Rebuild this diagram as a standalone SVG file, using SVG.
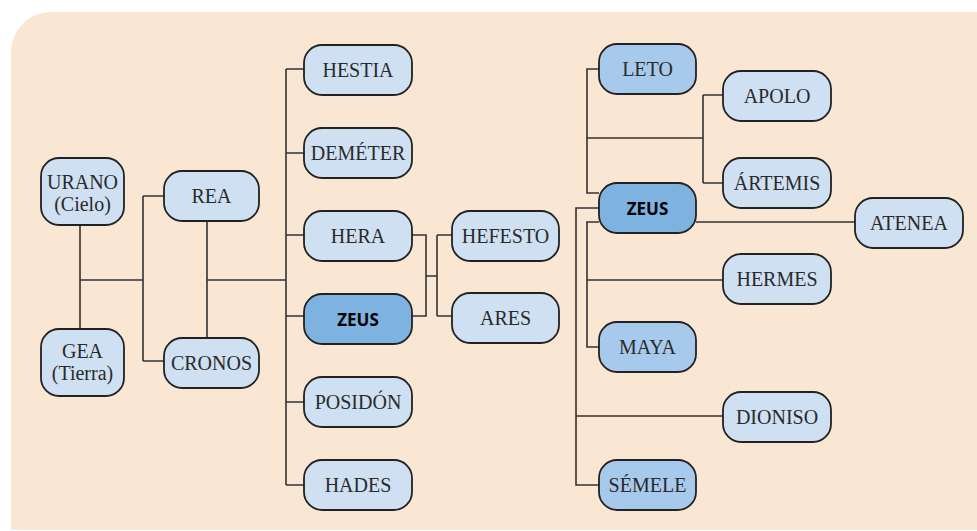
<svg xmlns="http://www.w3.org/2000/svg" width="977" height="531" viewBox="0 0 977 531">
<style>
.n rect{stroke:#222;stroke-width:1.8}
.l{fill:#cfe0f3}
.m{fill:#a7c9ec}
.d{fill:#7db2e1}
.t{font-family:'Liberation Serif','Times New Roman',serif;font-size:20px;fill:#2a2a2a;text-anchor:middle}
.b{font-family:'Open Sans','Liberation Sans',sans-serif;font-size:17px;font-weight:bold;fill:#000;text-anchor:middle}
#connectors path{fill:none;stroke:#333;stroke-width:1.6}
</style>
<rect width="977" height="531" fill="#fff"/>
<path d="M11 530 V52 A40 40 0 0 1 51 12 H977 V530 Z" fill="#f9e7d3"/>
<g id="connectors">
<path d="M80 225 V329 M80 280 H143 M143 196 V361 M143 196 H164 M143 361 H164"/>
<path d="M207 221 V338 M207 280 H286 M286 69 V485 M286 69 H304 M286 153 H304 M286 235 H304 M286 316 H304 M286 402 H304 M286 485 H304"/>
<path d="M412 235 H426 V316 H412 M426 276 H437 M437 235 V316 M437 235 H452 M437 316 H452"/>
<path d="M599 69 H587 V193 H599 M587 138 H703 M703 95 V183 M703 95 H723 M703 183 H723"/>
<path d="M599 208 H576 V485 H599 M576 416 H723"/>
<path d="M599 222 H587 V347 H599 M587 280 H723 M696 222 H855"/>
</g>
<g id="urano" class="n"><rect class="l" x="41" y="158" width="83" height="67" rx="18"/><text class="t" x="82.5" y="189">URANO</text><text class="t" x="82.5" y="211">(Cielo)</text></g>
<g id="gea" class="n"><rect class="l" x="41" y="329" width="83" height="67" rx="18"/><text class="t" x="82.5" y="358">GEA</text><text class="t" x="82.5" y="380">(Tierra)</text></g>
<g id="rea" class="n"><rect class="l" x="164" y="171" width="95" height="50" rx="18"/><text class="t" x="211.5" y="203">REA</text></g>
<g id="cronos" class="n"><rect class="l" x="164" y="338" width="95" height="50" rx="18"/><text class="t" x="211.5" y="370">CRONOS</text></g>
<g id="hestia" class="n"><rect class="l" x="304" y="45" width="108" height="50" rx="18"/><text class="t" x="358" y="77">HESTIA</text></g>
<g id="demeter" class="n"><rect class="l" x="304" y="128" width="108" height="50" rx="18"/><text class="t" x="358" y="160">DEMÉTER</text></g>
<g id="hera" class="n"><rect class="l" x="304" y="211" width="108" height="50" rx="18"/><text class="t" x="358" y="243">HERA</text></g>
<g id="zeus1" class="n"><rect class="d" x="304" y="294" width="108" height="50" rx="18"/><text class="b" x="358" y="326">ZEUS</text></g>
<g id="posidon" class="n"><rect class="l" x="304" y="377" width="108" height="50" rx="18"/><text class="t" x="358" y="409">POSIDÓN</text></g>
<g id="hades" class="n"><rect class="l" x="304" y="460" width="108" height="50" rx="18"/><text class="t" x="358" y="492">HADES</text></g>
<g id="hefesto" class="n"><rect class="l" x="452" y="211" width="107" height="50" rx="18"/><text class="t" x="505.5" y="243">HEFESTO</text></g>
<g id="ares" class="n"><rect class="l" x="452" y="293" width="107" height="50" rx="18"/><text class="t" x="505.5" y="325">ARES</text></g>
<g id="leto" class="n"><rect class="m" x="599" y="44" width="97" height="50" rx="18"/><text class="t" x="647.5" y="76">LETO</text></g>
<g id="apolo" class="n"><rect class="l" x="723" y="71" width="108" height="50" rx="18"/><text class="t" x="777" y="103">APOLO</text></g>
<g id="artemis" class="n"><rect class="l" x="723" y="158" width="108" height="50" rx="18"/><text class="t" x="777" y="190">ÁRTEMIS</text></g>
<g id="zeus2" class="n"><rect class="d" x="599" y="183" width="97" height="50" rx="18"/><text class="b" x="647.5" y="215">ZEUS</text></g>
<g id="atenea" class="n"><rect class="l" x="855" y="198" width="108" height="50" rx="18"/><text class="t" x="909" y="230">ATENEA</text></g>
<g id="hermes" class="n"><rect class="l" x="723" y="254" width="108" height="50" rx="18"/><text class="t" x="777" y="286">HERMES</text></g>
<g id="maya" class="n"><rect class="m" x="599" y="322" width="97" height="50" rx="18"/><text class="t" x="647.5" y="354">MAYA</text></g>
<g id="dioniso" class="n"><rect class="l" x="723" y="392" width="108" height="50" rx="18"/><text class="t" x="777" y="424">DIONISO</text></g>
<g id="semele" class="n"><rect class="m" x="599" y="460" width="97" height="50" rx="18"/><text class="t" x="647.5" y="492">SÉMELE</text></g>
</svg>
